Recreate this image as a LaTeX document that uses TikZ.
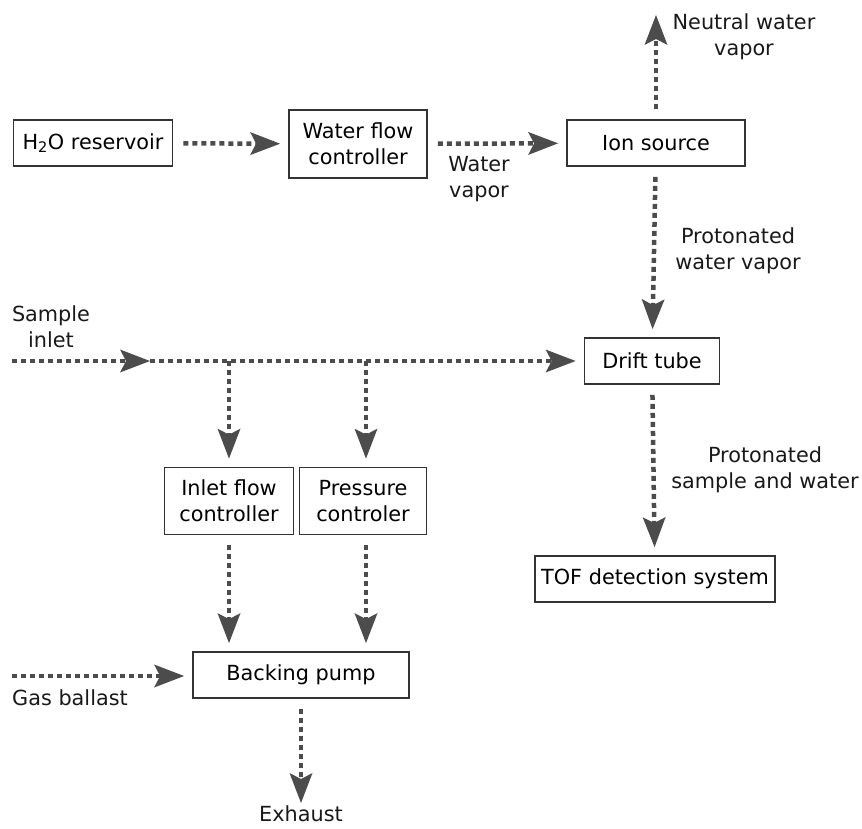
\documentclass[tikz,border=0pt]{standalone}
\usepackage{fontspec}
\setmainfont{DejaVu Sans}
\usetikzlibrary{arrows.meta}
\tikzset{
  unit/.style={draw=black!80, line width=1.8pt, fill=white, align=center, inner sep=0pt, font=\fontsize{20.8}{26}\selectfont},
  flow/.style={draw=black!70, line width=4.5pt, dash pattern=on 5pt off 4pt,
    -{Stealth[length=30pt,width=23pt,inset=6pt,fill=black!70,line width=0pt]},
    shorten <=10pt, shorten >=8pt},
  lbl/.style={align=center, inner sep=0pt, font=\fontsize{20.8}{26}\selectfont, text=black!90}
}
\begin{document}
\begin{tikzpicture}[x=1pt,y=-1pt]
  \useasboundingbox (0,0) rectangle (862,828);
  % units
  \node[unit, minimum width=159pt, minimum height=46pt] (res) at (93,143) {H\textsubscript{2}O reservoir};
  \node[unit, minimum width=138pt, minimum height=68pt] (wfc) at (358,144) {Water flow\\controller};
  \node[unit, minimum width=178pt, minimum height=46pt] (ion) at (656,143) {Ion source};
  \node[unit, minimum width=135pt, minimum height=46pt] (drift) at (652,361) {Drift tube};
  \node[unit, minimum width=129pt, minimum height=67pt] (ifc) at (229,501) {Inlet flow\\controller};
  \node[unit, minimum width=127pt, minimum height=67pt] (pc) at (363,501) {Pressure\\controler};
  \node[unit, minimum width=240pt, minimum height=46pt] (tof) at (655,579) {TOF detection system};
  \node[unit, minimum width=216pt, minimum height=46pt] (pump) at (301,675) {Backing pump};
  % free ends
  \coordinate (top) at (656,15);
  \coordinate (sin) at (12,361);
  \coordinate (sj) at (150,361);
  \coordinate (b1) at (229,361);
  \coordinate (b2) at (366,361);
  \coordinate (gas) at (12,676);
  \coordinate (exh) at (301,803);
  % labels
  \node[lbl] (lneutral) at (744,37) {Neutral water\\vapor};
  \node[lbl] (lwater) at (479,179) {Water\\vapor};
  \node[lbl] (lprot) at (738,251) {Protonated\\water vapor};
  \node[lbl] (lsample) at (51,327) {Sample\\inlet};
  \node[lbl] (lprots) at (765,470) {Protonated\\sample and water};
  \node[lbl] (lgas) at (70,698) {Gas ballast};
  \node[lbl, anchor=base] (lexh) at (301,821) {Exhaust};
  % flows
  \draw[flow] (res) -- (wfc);
  \draw[flow] (wfc) -- (ion);
  \draw[flow, shorten >=0pt] (ion) -- (top);
  \draw[flow] (ion) -- (drift);
  \draw[flow, shorten <=0pt, shorten >=0pt] (sin) -- (sj);
  \draw[flow, shorten <=0pt] (sj) -- (drift);
  \draw[flow, shorten <=0pt] (b1) -- (ifc);
  \draw[flow, shorten <=0pt] (b2) -- (b2 |- pc.north);
  \draw[flow] (drift) -- (tof);
  \draw[flow] (ifc) -- (ifc |- pump.north);
  \draw[flow] (b2 |- pc.south) -- (b2 |- pump.north);
  \draw[flow, shorten <=0pt] (gas) -- (pump.west |- gas);
  \draw[flow, shorten >=0pt] (pump) -- (exh);
\end{tikzpicture}
\end{document}
